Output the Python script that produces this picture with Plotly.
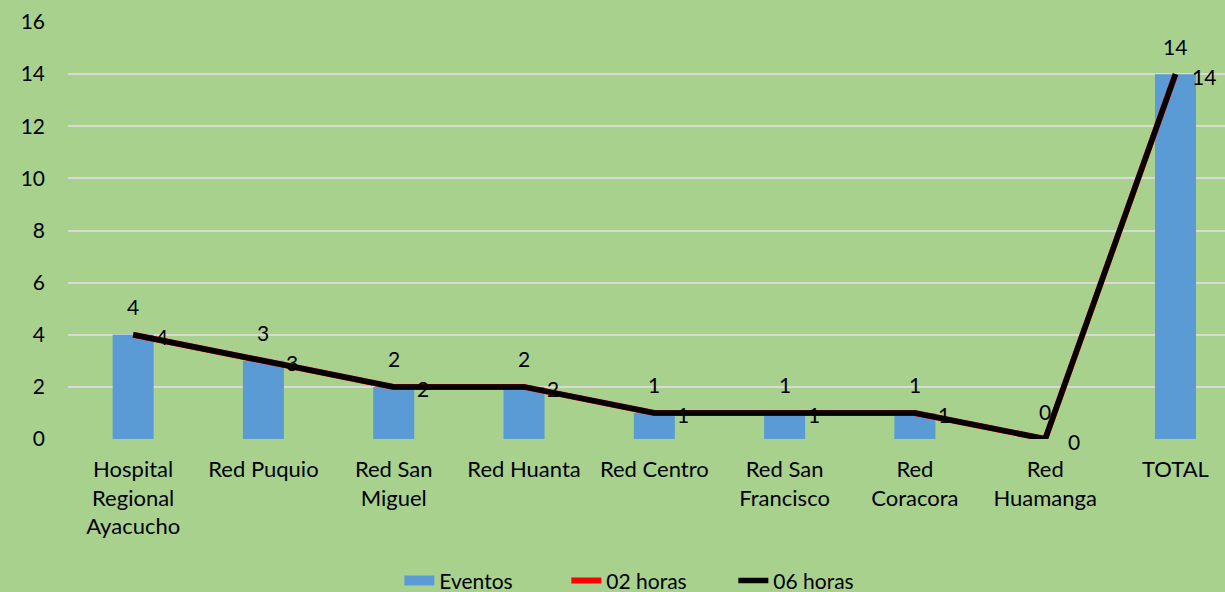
import plotly.graph_objects as go

categories = ["Hospital<br>Regional<br>Ayacucho", "Red Puquio", "Red San<br>Miguel", "Red Huanta",
              "Red Centro", "Red San<br>Francisco", "Red<br>Coracora", "Red<br>Huamanga", "TOTAL"]
eventos = [4, 3, 2, 2, 1, 1, 1, 0, 14]
horas_02 = [4, 3, 2, 2, 1, 1, 1, 0, 14]
horas_06 = [4, 3, 2, 2, 1, 1, 1, 0, 14]
y_ticks = [0, 2, 4, 6, 8, 10, 12, 14, 16]

FONT = "Lato"
BG = "#A9D18E"
FS = 21

fig = go.Figure()
fig.add_trace(go.Bar(x=categories, y=eventos, name="Eventos", marker_color="#5B9BD5",
                     width=0.315, marker_line_width=0, showlegend=False))
# legend entry for bars drawn as a wide swatch
fig.add_trace(go.Scatter(x=[None], y=[None], name="Eventos", mode="lines",
                         line=dict(color="#5B9BD5", width=14)))
fig.add_trace(go.Scatter(x=categories, y=horas_02, name="02 horas", mode="lines",
                         line=dict(color="#FF0000", width=6)))
fig.add_trace(go.Scatter(x=categories, y=horas_06, name="06 horas", mode="lines",
                         line=dict(color="#000000", width=5.5)))

for c, v in zip(categories, eventos):
    fig.add_annotation(x=c, y=v, text=str(v), showarrow=False, yshift=28,
                       font=dict(family=FONT, size=FS, color="#000000"))
for c, v in zip(categories, horas_06):
    fig.add_annotation(x=c, y=v, text=str(v), showarrow=False, xshift=29, yshift=-2,
                       font=dict(family=FONT, size=FS, color="#000000"))

fig.update_layout(
    width=1225, height=592,
    paper_bgcolor=BG, plot_bgcolor=BG,
    margin=dict(l=68, r=0, t=22, b=153, autoexpand=False),
    font=dict(family=FONT, size=FS, color="#000000"),
    showlegend=True,
    legend=dict(orientation="h", xref="container", yref="container",
                x=0.326, xanchor="left", y=0.019, yanchor="middle",
                entrywidth=122, entrywidthmode="pixels",
                font=dict(family=FONT, size=FS, color="#000000"), bgcolor="rgba(0,0,0,0)",
                tracegroupgap=0),
    xaxis=dict(range=[-0.5, 8.38], showgrid=False, zeroline=False, showline=False,
               automargin=False,
               tickfont=dict(family=FONT, size=22), ticks="", ticklabelstandoff=15),
    yaxis=dict(range=[0, 16], tickvals=y_ticks, showgrid=True, gridcolor="#D9D9D9", gridwidth=2,
               zeroline=False, showline=False, ticks="", ticklabelstandoff=22, automargin=False,
               tickfont=dict(family=FONT, size=FS)),
)

fig.write_html("out.html", config={"displayModeBar": False},
               post_script="document.body.style.margin='0';document.body.style.overflow='hidden';")
